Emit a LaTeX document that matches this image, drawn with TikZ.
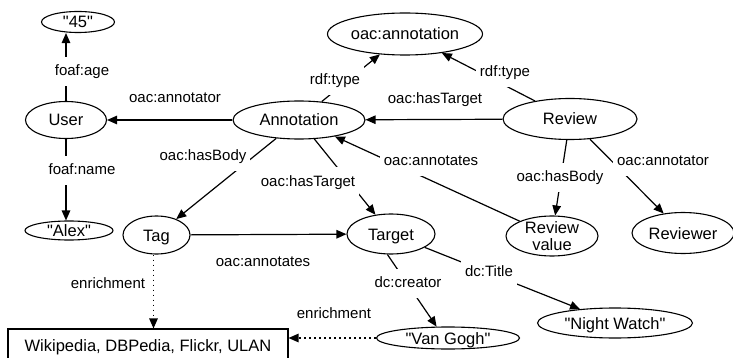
\documentclass[tikz,border=0pt]{standalone}
\usepackage{fontspec}
\setmainfont{Liberation Sans}
\newfontfamily\plainfont{Liberation Sans}
\usetikzlibrary{shapes.geometric,arrows.meta}
\tikzset{
  ell/.style={draw, ellipse, line width=1.1pt, inner sep=0pt, text height=12pt, text depth=0pt,
    font=\plainfont\fontsize{16.5}{18}\selectfont},
  boxnode/.style={draw, rectangle, line width=1.1pt, inner sep=0pt, text height=12pt, text depth=0pt,
    font=\plainfont\fontsize{16.5}{18}\selectfont},
  lab/.style={fill=white, inner xsep=4pt, inner ysep=8pt, text height=10.5pt, text depth=2.5pt,
    font=\plainfont\fontsize{15}{18}\selectfont},
  arr/.style={line width=1.2pt, -{Triangle[length=10pt,width=8.5pt]}},
  dotline/.style={dash pattern=on 1.6pt off 3.4pt}
}
\begin{document}
\begin{tikzpicture}[x=1pt,y=-1pt]
\fill[white] (0,0) rectangle (733,358);
\useasboundingbox (0,0) rectangle (733,358);

% nodes
\node[ell, minimum width=73, minimum height=21] (v45) at (78,22) {"45"};
\node[ell, minimum width=81, minimum height=37] (user) at (66,120) {User};
\node[ell, minimum width=88, minimum height=19] (alex) at (69,230.5) {"Alex"};
\node[ell, minimum width=132, minimum height=38] (ann) at (299,120) {Annotation};
\node[ell, minimum width=155, minimum height=42] (oacann) at (405,34) {oac:annotation};
\node[ell, minimum width=134, minimum height=41] (rev) at (570,119) {Review};
\node[ell, minimum width=92, minimum height=40,
  label={[font=\plainfont\fontsize{16.5}{17.5}\selectfont, align=center]center:Review\\value}] (rv) at (552,236) {};
\node[ell, minimum width=102, minimum height=41] (revr) at (683,233) {Reviewer};
\node[ell, minimum width=67, minimum height=38] (tag) at (156.5,235) {Tag};
\node[ell, minimum width=88, minimum height=40] (tgt) at (391,234) {Target};
\node[ell, minimum width=143, minimum height=22] (vg) at (448,338) {"Van Gogh"};
\node[ell, minimum width=155, minimum height=30] (nw) at (615,323) {"Night Watch"};
\node[boxnode, minimum width=280, minimum height=33] (box) at (148,345.5) {Wikipedia, DBPedia, Flickr, ULAN};

% connectors
\draw[arr] (user.north) -- (user.north |- v45.south);
\draw[arr] (user.south) -- (user.south |- alex.north);
\draw[arr] (ann) -- (user);
\draw[arr] (ann) -- (oacann);
\draw[arr] (rev) -- (oacann);
\draw[arr] (rev) -- (ann);
\draw[arr] (ann) -- (tag);
\draw[arr] (ann) -- (tgt);
\draw[arr] (rv) -- (ann);
\draw[arr] (rev) -- (rv);
\draw[arr] (rev) -- (revr);
\draw[arr] (tag) -- (tgt);
\draw[arr] (tgt.-100) -- (vg.135);
\draw[arr] (tgt) -- (nw);
\draw[arr, dotline] ([xshift=-3pt]tag.south) -- ([xshift=-3pt]tag.south |- box.north);
\draw[arr, dotline] (vg.west) -- (vg.west -| box.east);

% labels
\node[lab] (l1) at (82,72) {foaf:age};
\node[lab] (l2) at (82,171) {foaf:name};
\node[lab] (l3) at (175,99) {oac:annotator};
\node[lab] (l4) at (335,81) {rdf:type};
\node[lab] (l5) at (505,73) {rdf:type};
\node[lab] (l6) at (435,100) {oac:hasTarget};
\node[lab] (l7) at (203,157) {oac:hasBody};
\node[lab] (l8) at (308,182) {oac:hasTarget};
\node[lab] (l9) at (431,162) {oac:annotates};
\node[lab] (l10) at (560,178) {oac:hasBody};
\node[lab] (l11) at (663,162) {oac:annotator};
\node[lab] (l12) at (263,262) {oac:annotates};
\node[lab] (l13) at (408,283) {dc:creator};
\node[lab] (l14) at (489,272) {dc:Title};
\node[lab] (l15) at (108,284) {enrichment};
\node[lab] (l16) at (334,314) {enrichment};
\end{tikzpicture}
\end{document}
